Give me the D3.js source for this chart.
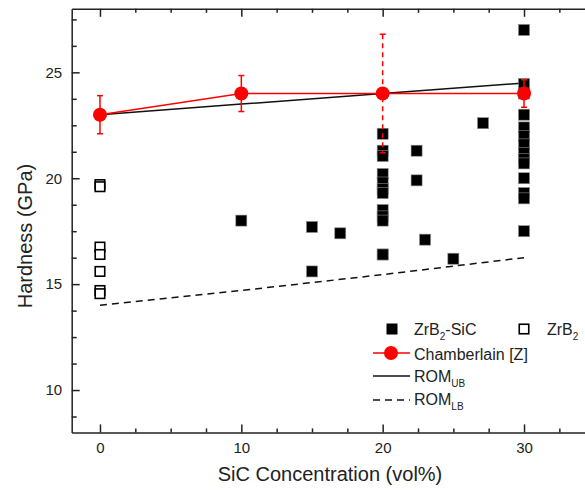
<!DOCTYPE html>
<html>
<head>
<meta charset="utf-8">
<script src="https://cdn.jsdelivr.net/npm/d3@7"></script>
<style>
  html, body { margin: 0; padding: 0; background: #fff; }
  svg { display: block; font-family: "Liberation Sans", Arial, sans-serif; }
  .axis path, .axis line { stroke: #222; stroke-width: 1.5; }
  .axis text { font-size: 15px; fill: #222; font-family: "Liberation Sans", Arial, sans-serif; }
</style>
</head>
<body>
<div id="chart"></div>
<script>
// ZrB2-SiC hardness vs SiC content

// Chamberlain [Z] — mean and error half-width
const chamberX   = [0, 10, 20, 30];
const chamberY   = [23.0, 24.0, 24.0, 24.0];
const chamberErr = [0.9, 0.85, 2.8, 0.65];

// rule-of-mixtures bounds
const romX   = [0, 10, 20, 30];
const romUbY = [23.0, 23.5, 24.0, 24.5];
const romLbY = [14.0, 14.7, 15.45, 16.25];

// ZrB2-SiC (filled squares)
const sicX = [10, 15, 15, 17,
  20, 20, 20, 20, 20, 20, 20, 20, 20, 20, 20, 20,
  22.4, 22.4, 23, 25, 27.1,
  30, 30, 30, 30, 30, 30, 30, 30, 30, 30, 30, 30, 30, 30];
const sicY = [18.0, 17.7, 15.6, 17.4,
  22.1, 21.3, 21.05, 20.2, 19.8, 19.5, 19.3, 18.5, 18.2, 18.0, 16.4, 16.4,
  21.3, 19.9, 17.1, 16.2, 22.6,
  27.0, 24.45, 24.0, 23.0, 22.4, 22.0, 21.6, 21.2, 20.9, 20.7, 20.0, 19.3, 19.05, 17.5];

// monolithic ZrB2 (open squares), all at 0 vol%
const zrb2X = [0, 0, 0, 0, 0, 0, 0];
const zrb2Y = [19.7, 19.6, 16.75, 16.4, 15.6, 14.7, 14.55];

const xMajor = [0, 10, 20, 30];
const yMajor = [10, 15, 20, 25];

const width = 585, height = 494;
const svg = d3.select("#chart").append("svg")
    .attr("width", width)
    .attr("height", height);

const x = d3.scaleLinear().domain([-2, 35]).range([71.7, 594.7]);
const y = d3.scaleLinear().domain([8, 28]).range([432.4, 8.8]);

const xMinorVals = d3.range(0, 35, 2.5).filter(v => v % 10 !== 0);
const yMinorVals = d3.range(8.75, 28, 1.25).filter(v => v % 5 !== 0);

// bottom axis
svg.append("g").attr("class", "axis")
    .attr("transform", `translate(0,${y(8)})`)
    .call(d3.axisBottom(x).tickValues(xMajor).tickSize(-8).tickSizeOuter(0).tickPadding(10));
svg.append("g").attr("class", "axis")
    .attr("transform", `translate(0,${y(8)})`)
    .call(d3.axisBottom(x).tickValues(xMinorVals).tickSize(-4).tickSizeOuter(0).tickFormat(""))
    .select(".domain").remove();

// top axis (ticks only)
svg.append("g").attr("class", "axis")
    .attr("transform", `translate(0,${y(28)})`)
    .call(d3.axisTop(x).tickValues(xMajor).tickSize(-8).tickSizeOuter(0).tickFormat(""));
svg.append("g").attr("class", "axis")
    .attr("transform", `translate(0,${y(28)})`)
    .call(d3.axisTop(x).tickValues(xMinorVals).tickSize(-4).tickSizeOuter(0).tickFormat(""))
    .select(".domain").remove();

// left axis
svg.append("g").attr("class", "axis")
    .attr("transform", `translate(${x(-2)},0)`)
    .call(d3.axisLeft(y).tickValues(yMajor).tickSize(-8).tickSizeOuter(0).tickPadding(9.5));
svg.append("g").attr("class", "axis")
    .attr("transform", `translate(${x(-2)},0)`)
    .call(d3.axisLeft(y).tickValues(yMinorVals).tickSize(-5).tickSizeOuter(0).tickFormat(""))
    .select(".domain").remove();

// axis titles
svg.append("text")
    .attr("x", 330).attr("y", 481)
    .attr("text-anchor", "middle")
    .attr("font-size", 20).attr("fill", "#222")
    .text("SiC Concentration (vol%)");
svg.append("text")
    .attr("transform", "translate(32,236) rotate(-90)")
    .attr("text-anchor", "middle")
    .attr("font-size", 20).attr("fill", "#222")
    .text("Hardness (GPa)");

const line = d3.line().x(d => x(d[0])).y(d => y(d[1]));

// ROM bounds
svg.append("path")
    .attr("d", line(d3.zip(romX, romLbY)))
    .attr("fill", "none").attr("stroke", "#111").attr("stroke-width", 1.5)
    .attr("stroke-dasharray", "7,5");
svg.append("path")
    .attr("d", line(d3.zip(romX, romUbY)))
    .attr("fill", "none").attr("stroke", "#111").attr("stroke-width", 1.5);

// squares
const sq = 11;
svg.append("g").selectAll("rect")
  .data(d3.zip(sicX, sicY))
  .join("rect")
    .attr("x", d => x(d[0]) - sq / 2)
    .attr("y", d => y(d[1]) - sq / 2)
    .attr("width", sq).attr("height", sq)
    .attr("fill", "#000")
    .attr("stroke", "#888").attr("stroke-width", 0.6);

svg.append("g").selectAll("rect")
  .data(d3.zip(zrb2X, zrb2Y))
  .join("rect")
    .attr("x", d => x(d[0]) - (sq - 1.5) / 2)
    .attr("y", d => y(d[1]) - (sq - 1.5) / 2)
    .attr("width", sq - 1.5).attr("height", sq - 1.5)
    .attr("fill", "#fff")
    .attr("stroke", "#000").attr("stroke-width", 1.6);

// Chamberlain series
const red = "#ff0000";
const chamber = chamberX.map((v, i) => ({ x: v, y: chamberY[i], err: chamberErr[i] }));

svg.append("path")
    .attr("d", line(chamber.map(d => [d.x, d.y])))
    .attr("fill", "none").attr("stroke", red).attr("stroke-width", 1.5);

const eb = svg.append("g").selectAll("g")
  .data(chamber)
  .join("g")
    .attr("stroke", red).attr("stroke-width", 1.5);
eb.append("line")
    .attr("x1", d => x(d.x)).attr("x2", d => x(d.x))
    .attr("y1", d => y(d.y + d.err)).attr("y2", d => y(d.y - d.err))
    .attr("stroke-dasharray", d => d.err > 2 ? "5,4" : null);
eb.append("line")
    .attr("x1", d => x(d.x) - 3).attr("x2", d => x(d.x) + 3)
    .attr("y1", d => y(d.y + d.err)).attr("y2", d => y(d.y + d.err));
eb.append("line")
    .attr("x1", d => x(d.x) - 3).attr("x2", d => x(d.x) + 3)
    .attr("y1", d => y(d.y - d.err)).attr("y2", d => y(d.y - d.err));

svg.append("g").selectAll("circle")
  .data(chamber)
  .join("circle")
    .attr("cx", d => x(d.x)).attr("cy", d => y(d.y))
    .attr("r", 7).attr("fill", red);

// legend
const lg = svg.append("g").attr("font-size", 16).attr("fill", "#222");

function label(xp, yp, main, sub, rest) {
  const t = lg.append("text").attr("x", xp).attr("y", yp);
  t.append("tspan").text(main);
  if (sub) t.append("tspan").attr("dy", 5).attr("font-size", 10).text(sub);
  if (rest) t.append("tspan").attr("dy", -5).text(rest);
}

lg.append("rect").attr("x", 392 - sq / 2).attr("y", 329 - sq / 2)
  .attr("width", sq).attr("height", sq).attr("fill", "#000");
label(414, 335, "ZrB", "2", "-SiC");

lg.append("rect").attr("x", 524 - (sq - 1.5) / 2).attr("y", 329 - (sq - 1.5) / 2)
  .attr("width", sq - 1.5).attr("height", sq - 1.5)
  .attr("fill", "#fff").attr("stroke", "#000").attr("stroke-width", 1.6);
label(547, 335, "ZrB", "2", null);

lg.append("line").attr("x1", 373).attr("x2", 410).attr("y1", 353).attr("y2", 353)
  .attr("stroke", red).attr("stroke-width", 1.5);
lg.append("circle").attr("cx", 391).attr("cy", 353).attr("r", 7).attr("fill", red);
label(414, 360, "Chamberlain [Z]", null, null);

lg.append("line").attr("x1", 373).attr("x2", 410).attr("y1", 376).attr("y2", 376)
  .attr("stroke", "#111").attr("stroke-width", 1.5);
label(414, 382, "ROM", "UB", null);

lg.append("line").attr("x1", 373).attr("x2", 410).attr("y1", 400).attr("y2", 400)
  .attr("stroke", "#111").attr("stroke-width", 1.5).attr("stroke-dasharray", "7,5");
label(414, 405, "ROM", "LB", null);
</script>
</body>
</html>
